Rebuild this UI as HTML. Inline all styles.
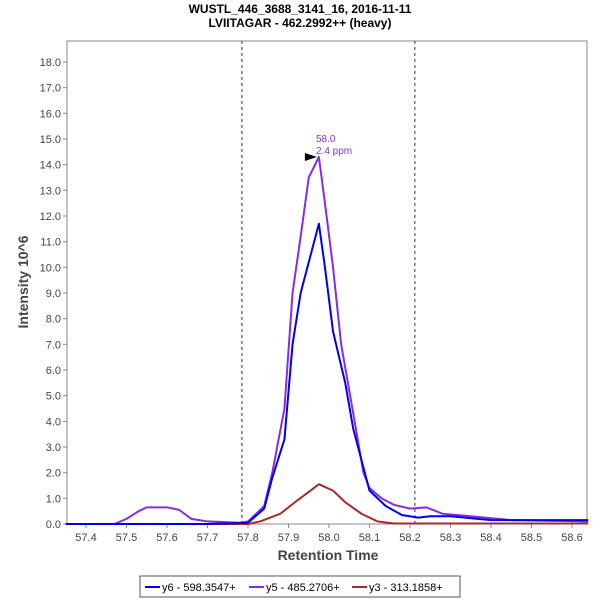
<!DOCTYPE html>
<html><head><meta charset="utf-8"><style>
body{margin:0;background:#fff;font-family:"Liberation Sans",sans-serif}
</style></head><body>
<svg width="600" height="600" xmlns="http://www.w3.org/2000/svg" font-family="Liberation Sans, sans-serif">
<text x="300" y="13" text-anchor="middle" font-size="12" font-weight="bold">WUSTL_446_3688_3141_16, 2016-11-11</text>
<text x="300" y="27" text-anchor="middle" font-size="12" font-weight="bold">LVIITAGAR - 462.2992++ (heavy)</text>
<rect x="67" y="41" width="520" height="483" fill="#fff" stroke="#888"/>
<g id="axes"></g>
<g id="series"></g>
<text x="316" y="142" font-size="10" fill="#8a2be2">58.0</text>
<text x="316" y="154" font-size="10" fill="#8a2be2">2.4 ppm</text>
<text x="328" y="560" text-anchor="middle" font-size="14" font-weight="bold" fill="#444">Retention Time</text>
<text transform="translate(28,282) rotate(-90)" text-anchor="middle" font-size="14" font-weight="bold" fill="#444">Intensity 10^6</text>
<g>
<rect x="140" y="576" width="320" height="21" fill="#fff" stroke="#555"/>
<line x1="145" y1="587" x2="160" y2="587" stroke="#0000ee" stroke-width="2"/>
<text x="162" y="591" font-size="11">y6 - 598.3547+</text>
<line x1="249" y1="587" x2="264" y2="587" stroke="#8a2be2" stroke-width="2"/>
<text x="266" y="591" font-size="11">y5 - 485.2706+</text>
<line x1="352" y1="587" x2="367" y2="587" stroke="#a52a2a" stroke-width="2"/>
<text x="369" y="591" font-size="11">y3 - 313.1858+</text>
</g>
</svg>
<script>
const xTicks=[57.4,57.5,57.6,57.7,57.8,57.9,58.0,58.1,58.2,58.3,58.4,58.5,58.6];
const yTicks=[0,1,2,3,4,5,6,7,8,9,10,11,12,13,14,15,16,17,18];
const boundaries=[57.785,58.212];
const peakTime=57.975, peakValue=14.3;
const y5T=[57.35,57.47,57.50,57.53,57.55,57.60,57.63,57.66,57.70,57.78,57.80,57.84,57.86,57.89,57.91,57.93,57.95,57.975,57.99,58.01,58.03,58.06,58.085,58.10,58.13,58.16,58.20,58.24,58.28,58.35,58.45,58.64];
const y5V=[0,0,0.2,0.5,0.65,0.65,0.55,0.2,0.1,0.05,0.1,0.7,2.0,4.5,9.0,11.2,13.5,14.3,12.5,10.0,7.0,4.3,2.0,1.4,1.0,0.75,0.6,0.65,0.4,0.3,0.15,0.1];
const y6T=[57.35,57.70,57.80,57.84,57.86,57.89,57.91,57.93,57.975,57.99,58.01,58.04,58.06,58.10,58.14,58.18,58.22,58.25,58.30,58.40,58.64];
const y6V=[0,0,0.05,0.6,1.8,3.3,7.0,9.0,11.7,10.0,7.5,5.5,3.7,1.3,0.7,0.35,0.25,0.3,0.3,0.15,0.15];
const y3T=[57.35,57.80,57.83,57.88,57.92,57.95,57.975,58.01,58.04,58.08,58.12,58.16,58.64];
const y3V=[0,0,0.1,0.4,0.9,1.25,1.55,1.3,0.85,0.4,0.1,0.02,0.02];
const NS="http://www.w3.org/2000/svg";
const X=t=>86+(t-57.4)/1.2*486;
const Y=v=>524-v*(462/18);
const ax=document.getElementById('axes'), se=document.getElementById('series');
function mk(tag,attrs,parent){const e=document.createElementNS(NS,tag);for(const k in attrs)e.setAttribute(k,attrs[k]);parent.appendChild(e);return e;}
xTicks.forEach(t=>{
  const l=mk('line',{x1:X(t),x2:X(t),y1:524,y2:528,stroke:'#888'},ax);
  
  
  const tx=mk('text',{x:X(t),y:541,'text-anchor':'middle','font-size':11,fill:'#444'},ax);
  tx.textContent=t.toFixed(1);
  
  
});
yTicks.forEach(v=>{
  const l=mk('line',{x1:63,x2:67,y1:Y(v),y2:Y(v),stroke:'#888'},ax);
  
  
  const tx=mk('text',{x:61,y:Y(v)+4,'text-anchor':'end','font-size':11,fill:'#444'},ax);
  tx.textContent=v.toFixed(1);
  
  
});
boundaries.forEach(b=>{
  const l=mk('line',{x1:X(b),x2:X(b),y1:41,y2:524,stroke:'#333','stroke-dasharray':'3,3'},se);
  
  
});
function series(T,V,color,name){
  const p=mk('polyline',{points:T.map((t,i)=>X(t)+','+Y(V[i])).join(' '),fill:'none',stroke:color,'stroke-width':2,'stroke-linejoin':'round'},se);
  
  
}
series(y3T,y3V,'#a52a2a','series-y3');
series(y5T,y5V,'#8a2be2','series-y5');
series(y6T,y6V,'#0000ee','series-y6');
const px=X(peakTime)-2, py=Y(peakValue);
const m=mk('polygon',{points:`${px},${py} ${px-12},${py-4} ${px-12},${py+4}`,fill:'#000'},se);


</script>
</body></html>
